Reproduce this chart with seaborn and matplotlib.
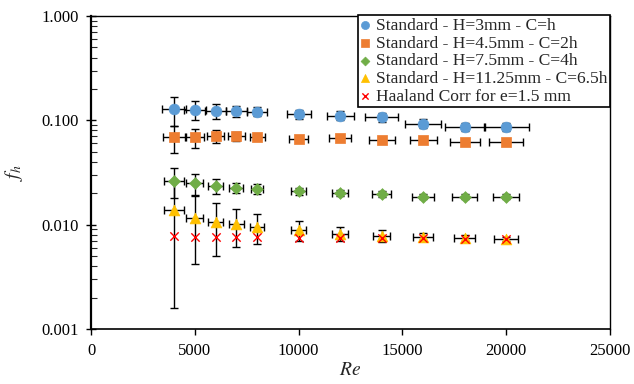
import numpy as np
import pandas as pd
import matplotlib
matplotlib.use("Agg")
import matplotlib.pyplot as plt
import seaborn as sns
from matplotlib.ticker import FixedLocator, FuncFormatter, LogLocator, NullFormatter

# ---- data ----
re_vals = [4000, 5000, 6000, 7000, 8000, 10000, 12000, 14000, 16000, 18000, 20000]

f_h3 = [0.128, 0.127, 0.124, 0.123, 0.121, 0.115, 0.111, 0.107, 0.093, 0.0865, 0.0865]
yerr_h3 = [0.040, 0.027, 0.020, 0.015, 0.012, 0.012, 0.011, 0.010, 0.009, 0.008, 0.008]
xerr_h3 = [600, 530, 520, 500, 480, 575, 650, 780, 860, 960, 1080]

f_h45 = [0.0687, 0.0687, 0.070, 0.070, 0.0694, 0.0662, 0.0677, 0.0647, 0.0647, 0.062, 0.0624]
yerr_h45 = [0.020, 0.014, 0.010, 0.007, 0.005, 0.004, 0.004, 0.004, 0.003, 0.003, 0.003]
xerr_h45 = [530, 420, 400, 400, 360, 470, 520, 620, 650, 720, 815]

f_h75 = [0.0264, 0.0249, 0.0234, 0.0225, 0.0219, 0.0210, 0.0202, 0.0196, 0.0186, 0.0186, 0.0186]
yerr_h75 = [0.0085, 0.0055, 0.0037, 0.0026, 0.0024, 0.0017, 0.0015, 0.0013, 0.0010, 0.0010, 0.0010]
xerr_h75 = [500, 410, 360, 340, 300, 360, 400, 470, 530, 600, 640]

f_h1125 = [0.0138, 0.0116, 0.0105, 0.0101, 0.0096, 0.0089, 0.0082, 0.0078, 0.0076, 0.0074, 0.0073]
yerr_h1125 = [0.0122, 0.0074, 0.0055, 0.0040, 0.0031, 0.0019, 0.0013, 0.0010, 0.0007, 0.0005, 0.0004]
xerr_h1125 = [490, 400, 370, 350, 340, 360, 380, 420, 480, 520, 580]

f_haaland = [0.0078, 0.0077, 0.0077, 0.0076, 0.0076, 0.0075, 0.0074, 0.0074, 0.0074, 0.0073, 0.0073]

labels = ["Standard - H=3mm - C=h", "Standard - H=4.5mm - C=2h",
          "Standard - H=7.5mm - C=4h", "Standard - H=11.25mm - C=6.5h",
          "Haaland Corr for e=1.5 mm"]
x_ticks = [0, 5000, 10000, 15000, 20000, 25000]
y_ticks = [0.001, 0.01, 0.1, 1.0]

# ---- style ----
sns.set_style("white")
plt.rcParams['font.family'] = ['Liberation Serif', 'DejaVu Serif']
plt.rcParams['mathtext.fontset'] = 'stix'

fig = plt.figure(figsize=(6.34, 3.84), dpi=100)
ax = fig.add_axes([91/634, 1 - 329/384, (610 - 91)/634, (329 - 16)/384])

series = [
    (f_h3, yerr_h3, xerr_h3, 'o', '#5B9BD5', 60),
    (f_h45, yerr_h45, xerr_h45, 's', '#ED7D31', 50),
    (f_h75, yerr_h75, xerr_h75, 'D', '#70AD47', 36),
    (f_h1125, yerr_h1125, xerr_h1125, '^', '#FFC000', 60),
]

for i, (f, ye, xe, m, c, s) in enumerate(series):
    ax.errorbar(re_vals, f, yerr=ye, xerr=xe, fmt='none', ecolor='black',
                elinewidth=1.0, capsize=2.6, capthick=1.0, zorder=2)
    df = pd.DataFrame({"Re": re_vals, "f": f})
    sns.scatterplot(data=df, x="Re", y="f", marker=m, color=c, s=s,
                    edgecolor=c, linewidth=0.5, ax=ax, label=labels[i], zorder=3 + i)

df_h = pd.DataFrame({"Re": re_vals, "f": f_haaland})
sns.scatterplot(data=df_h, x="Re", y="f", marker='x', color='#FF0000', s=36,
                linewidth=1.0, ax=ax, label=labels[4], zorder=10)

ax.set_yscale('log')
ax.set_xlim(0, 25000)
ax.set_ylim(0.001, 1.0)
ax.xaxis.set_major_locator(FixedLocator(x_ticks))
ax.yaxis.set_major_locator(FixedLocator(y_ticks))
ax.yaxis.set_minor_locator(LogLocator(base=10, subs=np.arange(2, 10)))
ax.yaxis.set_minor_formatter(NullFormatter())
ax.yaxis.set_major_formatter(FuncFormatter(lambda v, p: f"{v:.3f}"))
ax.xaxis.set_major_formatter(FuncFormatter(lambda v, p: f"{int(v)}"))

ax.tick_params(axis='x', which='major', direction='out', length=4, width=1,
               labelsize=12, colors='black', pad=6, bottom=True)
ax.tick_params(axis='y', which='major', direction='inout', length=7, width=1,
               labelsize=12, colors='black', left=True, pad=5)
ax.tick_params(axis='y', which='minor', direction='in', length=4, width=0.8, left=True)

for sp in ax.spines.values():
    sp.set_color('black')
    sp.set_linewidth(1.0)
ax.spines['left'].set_linewidth(1.6)
ax.spines['bottom'].set_linewidth(1.2)

ax.set_xlabel(r"$Re$", fontsize=14, labelpad=2)
ax.set_ylabel(r"$f_h$", fontsize=14, labelpad=12)

leg = ax.legend(loc='upper right', bbox_to_anchor=(1.0, 1.003), borderaxespad=0,
                fontsize=12.6, frameon=True, fancybox=False, framealpha=1,
                edgecolor='black', handlelength=0.6, handletextpad=0.3,
                labelspacing=0.08, borderpad=0.15, markerscale=0.75)
leg.get_frame().set_linewidth(1.2)

fig.savefig("out.png", dpi=100)
